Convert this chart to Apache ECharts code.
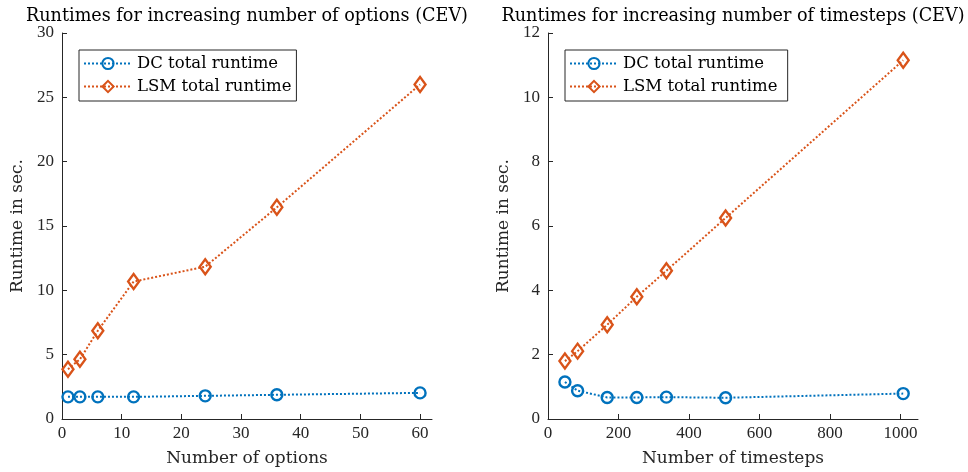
<!DOCTYPE html>
<html><head><meta charset="utf-8">
<script src="https://cdn.jsdelivr.net/npm/echarts@6/dist/echarts.min.js"></script>
<style>html,body{margin:0;padding:0;background:#fff}#c{width:968px;height:472px}</style>
</head><body><div id="c"></div>
<script>
const options = [1, 3, 6, 12, 24, 36, 60];
const dcOptions = [1.72, 1.72, 1.72, 1.72, 1.80, 1.88, 2.03];
const lsmOptions = [3.87, 4.64, 6.86, 10.68, 11.84, 16.45, 26.0];
const timesteps = [48, 84, 168, 252, 336, 504, 1008];
const dcTimesteps = [1.15, 0.88, 0.67, 0.67, 0.68, 0.66, 0.79];
const lsmTimesteps = [1.80, 2.11, 2.93, 3.80, 4.61, 6.25, 11.15];
const xTicksLeft = [0, 10, 20, 30, 40, 50, 60];
const xTicksRight = [0, 200, 400, 600, 800, 1000];
const yTicksLeft = [0, 5, 10, 15, 20, 25, 30];
const yTicksRight = [0, 2, 4, 6, 8, 10, 12];

const FONT = 'Liberation Serif';
const WFONT = 'DejaVu Serif';
const AX = '#262626';
const BLUE = '#0072BD', ORANGE = '#D95319';

function pair(a, b) { return a.map((v, i) => [v, b[i]]); }

function xAxis(idx, max, ticks, name) {
  return {
    type: 'value', gridIndex: idx, min: 0, max: max,
    name: name, nameLocation: 'middle', nameGap: 31,
    nameTextStyle: { fontFamily: WFONT, fontSize: 17, color: AX },
    axisLine: { show: true, onZero: false, lineStyle: { color: AX, width: 1 } },
    axisTick: { show: true, inside: true, length: 5, customValues: ticks, lineStyle: { color: AX } },
    axisLabel: { customValues: ticks, fontFamily: FONT, fontSize: 17, color: AX, margin: 6,
      formatter: v => String(v) },
    splitLine: { show: false }
  };
}
function yAxis(idx, max, ticks) {
  return {
    type: 'value', gridIndex: idx, min: 0, max: max,
    name: 'Runtime in sec.', nameLocation: 'middle', nameGap: 36,
    nameTextStyle: { fontFamily: WFONT, fontSize: 17, color: AX },
    axisLine: { show: true, lineStyle: { color: AX, width: 1 } },
    axisTick: { show: true, inside: true, length: 5, customValues: ticks, lineStyle: { color: AX } },
    axisLabel: { customValues: ticks, fontFamily: FONT, fontSize: 17, color: AX, margin: 8,
      formatter: v => String(v) },
    splitLine: { show: false }
  };
}
function series(name, idx, data, color, symbol, size) {
  return {
    name: name, type: 'line', xAxisIndex: idx, yAxisIndex: idx,
    data: data, symbol: symbol, symbolSize: size, showAllSymbol: true,
    lineStyle: { color: color, width: 2, type: [2, 2] },
    itemStyle: { color: 'rgba(255,255,255,0)', borderColor: color, borderWidth: 2.4 },
    emphasis: { disabled: true }, animation: false, z: 3
  };
}
function legend(left, names) {
  return {
    orient: 'vertical', left: left, top: 50,
    data: names,
    borderColor: AX, borderWidth: 1, backgroundColor: '#fff',
    padding: [5, 5, 6, 4], itemWidth: 48, itemHeight: 14, itemGap: 6,
    textStyle: { fontFamily: WFONT, fontSize: 16.5, color: '#000' },
    selectedMode: false
  };
}

const chart = echarts.init(document.getElementById('c'), null, { renderer: 'canvas' });
chart.setOption({
  animation: false,
  backgroundColor: '#fff',
  title: [
    { text: 'Runtimes for increasing number of options (CEV)', left: 242, top: 2, textAlign: 'center',
      textStyle: { fontFamily: WFONT, fontSize: 17.6, fontWeight: 'normal', color: '#000' } },
    { text: 'Runtimes for increasing number of timesteps (CEV)', left: 728, top: 2, textAlign: 'center',
      textStyle: { fontFamily: WFONT, fontSize: 17.6, fontWeight: 'normal', color: '#000' } }
  ],
  legend: [legend(79, ['DC total runtime', 'LSM total runtime']), legend(565, ['DC total runtime ', 'LSM total runtime '])],
  grid: [
    { left: 62, top: 33, width: 370, height: 388 },
    { left: 548, top: 33, width: 370, height: 388 }
  ],
  xAxis: [xAxis(0, 62, xTicksLeft, 'Number of options'), xAxis(1, 1050, xTicksRight, 'Number of timesteps')],
  yAxis: [yAxis(0, 30, yTicksLeft), yAxis(1, 12, yTicksRight)],
  series: [
    series('DC total runtime', 0, pair(options, dcOptions), BLUE, 'circle', 11),
    series('LSM total runtime', 0, pair(options, lsmOptions), ORANGE, 'diamond', [11, 15]),
    series('DC total runtime ', 1, pair(timesteps, dcTimesteps), BLUE, 'circle', 11),
    series('LSM total runtime ', 1, pair(timesteps, lsmTimesteps), ORANGE, 'diamond', [11, 15])
  ]
});
</script></body></html>
